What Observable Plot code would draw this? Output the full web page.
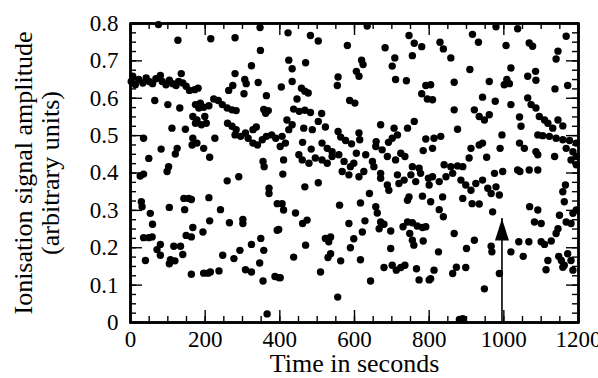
<!DOCTYPE html>
<html><head><meta charset="utf-8">
<script src="https://cdn.jsdelivr.net/npm/d3@7"></script>
<script src="https://cdn.jsdelivr.net/npm/@observablehq/plot@0.6"></script>
<style>body{margin:0;background:#fff}</style>
</head><body><div id="chart"></div>
<script>
// [time (s), ionisation signal amplitude (arb. units)]
const earlyUpper = [[75,.797],[127,.755],[215,.759],[280,.762],[347,.789],[348,.728],[324,.687],[280,.666],[306,.650],[310,.639],
[342,.642],[263,.621],[274,.634],[304,.612],[364,.607],[357,.570],[369,.567],[362,.560],[2,.645],[6,.659],[13,.636],[22,.650],
[33,.641],[42,.654],[50,.645],[59,.639],[68,.652],[80,.661],[85,.645],[95,.636],[104,.648],[113,.639],[122,.634],[129,.645],
[136,.666],[140,.641],[149,.632],[158,.621],[172,.623],[181,.627],[65,.594],[100,.583],[132,.574],[174,.583],[183,.574],[187,.587],
[196,.576],[210,.580],[223,.598],[235,.594],[246,.583],[259,.574],[272,.569],[283,.567],[167,.551],[178,.542],[190,.529],[203,.533],
[174,.533],[199,.551],[260,.533],[272,.525],[283,.516],[280,.502],[295,.498],[308,.507],[315,.493],[328,.516],[337,.523],[328,.480],
[340,.475],[353,.489],[364,.498],[378,.502],[389,.493],[111,.520],[147,.517],[167,.493],[165,.475],[178,.480],[226,.493],[35,.493],
[82,.464],[125,.466],[120,.451],[196,.466],[212,.442],[49,.439],[102,.417],[355,.431],[358,.417]];
const earlyLower = [[26,.392],[35,.397],[98,.404],[259,.379],[290,.390],[371,.359],[371,.345],[393,.318],[143,.332],[156,.332],
[163,.329],[210,.334],[29,.323],[31,.310],[104,.308],[145,.302],[53,.292],[59,.263],[241,.302],[212,.272],[265,.267],[301,.276],
[301,.265],[393,.247],[167,.254],[194,.242],[149,.233],[163,.229],[35,.227],[49,.227],[58,.229],[80,.209],[71,.195],[80,.180],
[116,.204],[134,.204],[140,.182],[107,.168],[104,.157],[119,.165],[40,.166],[247,.180],[277,.171],[293,.193],[324,.209],[349,.225],
[357,.193],[346,.159],[163,.129],[196,.132],[208,.132],[214,.135],[237,.138],[308,.141],[324,.135],[355,.111],[387,.123],[398,.120],
[366,.023]];
const midUpper = [[422,.775],[482,.768],[503,.753],[581,.741],[634,.793],[682,.735],[746,.768],[760,.747],[780,.738],[755,.714],
[424,.702],[433,.679],[469,.695],[433,.645],[404,.630],[619,.702],[623,.690],[605,.672],[612,.659],[556,.657],[554,.634],[708,.708],
[701,.686],[710,.650],[739,.647],[791,.634],[780,.612],[795,.598],[458,.627],[467,.619],[476,.614],[446,.598],[587,.594],[601,.587],
[437,.571],[452,.565],[467,.568],[482,.562],[512,.559],[503,.538],[522,.523],[419,.542],[433,.529],[424,.516],[464,.520],[487,.516],
[406,.498],[415,.480],[401,.471],[461,.482],[484,.464],[513,.480],[527,.466],[540,.457],[556,.511],[563,.496],[576,.487],[592,.478],
[612,.507],[614,.489],[605,.453],[670,.529],[658,.484],[657,.471],[706,.520],[715,.502],[701,.493],[691,.482],[742,.520],[760,.538],
[791,.491],[784,.460],[451,.449],[460,.435],[478,.426],[495,.440],[513,.435],[527,.426],[540,.444],[558,.449],[572,.431],[589,.417],
[598,.426],[630,.449],[648,.431],[674,.462],[688,.444],[710,.435],[724,.453],[735,.444],[755,.417],[773,.413],[652,.417],[410,.435]];
const midLower = [[408,.397],[567,.404],[585,.395],[612,.390],[625,.404],[670,.399],[670,.386],[715,.395],[719,.372],[733,.381],
[751,.395],[764,.377],[777,.399],[798,.386],[800,.368],[467,.363],[503,.374],[688,.368],[692,.354],[640,.345],[616,.320],[560,.314],
[742,.327],[746,.336],[782,.338],[657,.310],[661,.293],[406,.318],[410,.301],[442,.293],[473,.274],[461,.265],[628,.272],[585,.265],
[670,.269],[666,.251],[679,.263],[697,.245],[730,.256],[742,.269],[755,.267],[768,.258],[782,.254],[791,.256],[748,.238],[755,.220],
[759,.207],[784,.218],[397,.249],[621,.242],[598,.224],[589,.200],[522,.225],[536,.229],[531,.216],[469,.207],[697,.198],[437,.175],
[536,.184],[529,.174],[563,.165],[616,.168],[509,.135],[679,.147],[701,.153],[712,.140],[724,.147],[735,.153],[766,.144],[773,.114],
[800,.114],[401,.120],[643,.111],[555,.068]];
const lateUpper = [[979,.791],[1037,.786],[916,.771],[932,.750],[829,.750],[838,.732],[858,.708],[1006,.741],[1068,.748],[1077,.739],
[1167,.766],[1145,.726],[1140,.705],[909,.677],[867,.643],[961,.645],[1019,.681],[1008,.650],[1015,.639],[1001,.636],[1064,.659],
[1085,.672],[1086,.648],[1137,.625],[1171,.634],[804,.636],[809,.596],[943,.603],[977,.592],[1019,.583],[1064,.601],[1073,.583],
[1086,.574],[867,.569],[921,.569],[934,.551],[948,.542],[961,.556],[1042,.550],[1046,.525],[876,.517],[995,.502],[1095,.551],
[1109,.542],[1118,.533],[1131,.520],[1145,.542],[1158,.526],[1091,.502],[1104,.500],[1122,.498],[1140,.493],[1158,.489],[1176,.487],
[1194,.480],[1167,.466],[1185,.457],[1194,.444],[1180,.435],[1194,.422],[813,.493],[831,.498],[809,.466],[912,.466],[934,.475],
[943,.480],[990,.466],[1042,.480],[1055,.466],[1086,.457],[1091,.449],[1136,.444],[907,.440],[954,.442],[840,.422],[858,.417],
[876,.419],[890,.417],[1037,.408],[1068,.408]];
const lateLower = [[809,.390],[827,.377],[845,.390],[863,.399],[885,.381],[898,.368],[912,.354],[925,.372],[943,.381],[957,.359],
[966,.345],[979,.363],[988,.341],[975,.399],[997,.404],[890,.332],[915,.318],[934,.317],[836,.336],[804,.323],[827,.302],[838,.283],
[970,.296],[1043,.404],[1091,.408],[1069,.310],[1091,.301],[1082,.269],[1100,.265],[1165,.368],[1158,.350],[1162,.323],[1149,.287],
[1167,.269],[1145,.251],[1140,.238],[1185,.292],[1180,.265],[1194,.301],[867,.238],[921,.220],[900,.198],[966,.204],[968,.189],
[1019,.189],[1040,.216],[1067,.216],[1100,.216],[1109,.209],[1127,.218],[1052,.177],[825,.189],[1118,.166],[1147,.177],[1154,.166],
[1162,.153],[1158,.148],[1171,.184],[1180,.166],[1185,.140],[1113,.141],[813,.140],[804,.117],[863,.131],[873,.148],[898,.147],
[988,.131],[948,.090],[881,.008],[890,.010]];

const xDomain = [0, 1200];
const yDomain = [0, 0.8];
const xTickValues = [0, 200, 400, 600, 800, 1000, 1200];
const xTickLabels = ["0", "200", "400", "600", "800", "1000", "1200"];
const yTickValues = [0, 0.1, 0.2, 0.3, 0.4, 0.5, 0.6, 0.7, 0.8];
const yTickLabels = ["0", "0.1", "0.2", "0.3", "0.4", "0.5", "0.6", "0.7", "0.8"];
const xMinorTicks = d3.range(0, 1201, 50);
const yMinorTicks = d3.range(0, 33).map(i => i * 0.025);
const arrowMarker = [{time: 995, from: 0, to: 0.278}];
const xTitle = "Time in seconds";
const yTitle = ["Ionisation signal amplitude", "(arbitrary units)"];

const points = [...earlyUpper, ...earlyLower, ...midUpper, ...midLower, ...lateUpper, ...lateLower]
  .map(([time, amp]) => ({time, amp}));

const W = 598, H = 378, ML = 130, MR = 20, MT = 23, MB = 56;
const FW = W - ML - MR, FH = H - MT - MB;
const kx = (xDomain[1] - xDomain[0]) / FW, ky = (yDomain[1] - yDomain[0]) / FH;
const SHORT = 6, LONG = 12;
const arrowHead = {draw(ctx) { ctx.moveTo(0, 0); ctx.lineTo(7, 22); ctx.lineTo(-7, 22); ctx.closePath(); }};
const tk = {stroke: "#000", strokeWidth: 1.4};
const [x0, x1] = xDomain, [y0, y1] = yDomain;
// border drawn as a closed line through the corners of the scale domains
const borderPath = [{t: x0, a: y0}, {t: x1, a: y0}, {t: x1, a: y1}, {t: x0, a: y1}, {t: x0, a: y0}];

const chart = Plot.plot({
  width: W, height: H,
  marginLeft: ML, marginRight: MR, marginTop: MT, marginBottom: MB,
  x: {domain: xDomain},
  y: {domain: yDomain},
  style: {fontFamily: "'Liberation Serif', 'Times New Roman', serif", fontSize: "23px", color: "black", background: "white"},
  marks: [
    Plot.frame({stroke: "#000", strokeWidth: 2.5}),
    Plot.line(borderPath, {x: "t", y: "a", stroke: "#000", strokeWidth: 2.5, strokeLinejoin: "miter"}),
    Plot.ruleX(xMinorTicks, {x: d => d, y1: y0, y2: y0 + SHORT * ky, ...tk}),
    Plot.ruleX(xTickValues, {x: d => d, y1: y0, y2: y0 + LONG * ky, ...tk}),
    Plot.ruleX(xMinorTicks, {x: d => d, y1: y1, y2: y1 - SHORT * ky, ...tk}),
    Plot.ruleX(xTickValues, {x: d => d, y1: y1, y2: y1 - LONG * ky, ...tk}),
    Plot.ruleY(yMinorTicks, {y: d => d, x1: x0, x2: x0 + SHORT * kx, ...tk}),
    Plot.ruleY(yTickValues, {y: d => d, x1: x0, x2: x0 + LONG * kx, ...tk}),
    Plot.ruleY(yMinorTicks, {y: d => d, x1: x1, x2: x1 - SHORT * kx, ...tk}),
    Plot.ruleY(yTickValues, {y: d => d, x1: x1, x2: x1 - LONG * kx, ...tk}),
    Plot.axisX(xTickValues, {anchor: "bottom", tickSize: 0, tickPadding: 8, label: null,
      tickFormat: d => xTickLabels[xTickValues.indexOf(d)]}),
    Plot.axisY(yTickValues, {anchor: "left", tickSize: 0, tickPadding: 12, label: null,
      tickFormat: d => yTickLabels[yTickValues.indexOf(d)]}),
    Plot.dot(points, {x: "time", y: "amp", r: 3.7, fill: "#000", stroke: "none"}),
    Plot.ruleX(arrowMarker, {x: "time", y1: "from", y2: "to", stroke: "#000", strokeWidth: 1.6}),
    Plot.dot(arrowMarker, {x: "time", y: "to", symbol: arrowHead, fill: "#000", stroke: "none"}),
    Plot.text([xTitle], {frameAnchor: "bottom", lineAnchor: "middle", textAnchor: "middle", dy: 41, fontSize: 26, fill: "black"}),
    Plot.text([yTitle[0]], {frameAnchor: "left", lineAnchor: "middle", textAnchor: "middle", dx: -107, rotate: -90, fontSize: 26, fill: "black"}),
    Plot.text([yTitle[1]], {frameAnchor: "left", lineAnchor: "middle", textAnchor: "middle", dx: -80, rotate: -90, fontSize: 26, fill: "black"})
  ]
});
document.getElementById("chart").append(chart);
</script>
</body></html>
